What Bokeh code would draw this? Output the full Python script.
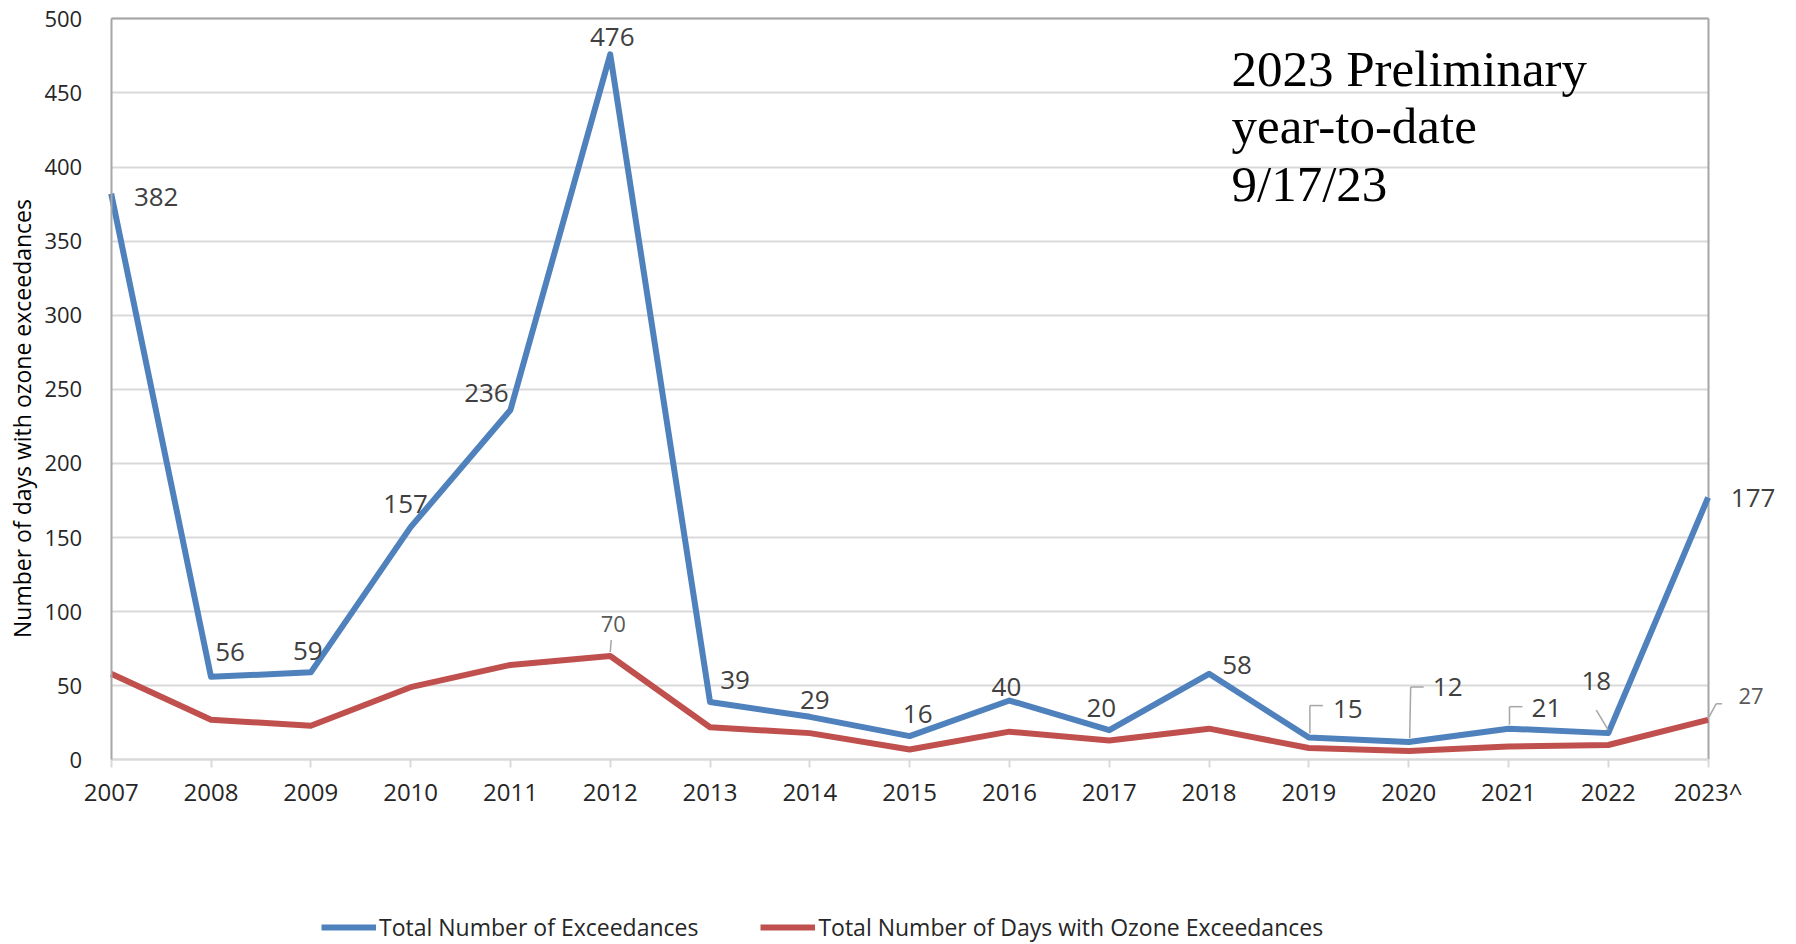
import math
from bokeh.plotting import figure
from bokeh.models import (Range1d, FixedTicker, Legend, LegendItem, Label, LabelSet,
                          ColumnDataSource, Arrow, Grid)
from bokeh.core.properties import value
from bokeh.embed import file_html
from bokeh.resources import INLINE

# ---------------- data ----------------
years = ["2007", "2008", "2009", "2010", "2011", "2012", "2013", "2014", "2015",
         "2016", "2017", "2018", "2019", "2020", "2021", "2022", "2023^"]
exceedances = [382, 56, 59, 157, 236, 476, 39, 29, 16, 40, 20, 58, 15, 12, 21, 18, 177]
ozone_days = [58, 27, 23, 49, 64, 70, 22, 18, 7, 19, 13, 21, 8, 6, 9, 10, 27]
labelled_day_years = ["2012", "2023^"]
y_ticks = [0, 50, 100, 150, 200, 250, 300, 350, 400, 450, 500]
series_names = ["Total Number of Exceedances", "Total Number of Days with Ozone Exceedances"]
note_lines = ["2023 Preliminary", "year-to-date", "9/17/23"]
y_title = "Number of  days with ozone exceedances"

# ---------------- layout / style (pixels) ----------------
W, H = 1796, 944
PLOT_L, PLOT_R = 110.7, 1707.6    # x pixels of first / last category
PLOT_T, PLOT_B = 18.3, 759.3      # y pixels of 500 / 0
N = len(years)
Y_MAX = y_ticks[-1]
PX_X = (PLOT_R - PLOT_L) / (N - 1)
PX_Y = (PLOT_B - PLOT_T) / Y_MAX

def dx_(px):  # pixel x -> data x
    return (px - PLOT_L) / PX_X

def dy_(py):  # pixel y -> data y
    return (PLOT_B - py) / PX_Y

BLUE = "#4f81bd"
RED = "#c0504d"
FONT = "Open Sans"

# label offsets in screen px (right, down)
exc_dx = [45, 19, -3, -5, -24, 2, 25, 5, 8, -3, -8, 28, 39, 39, 38, -12, 45]
exc_dy = [3, -25, -21, -23, -17, -17, -22, -17, -22, -14, -22, -9, -29, -55, -21, -52, 1]
day_dx = [3, 43]
day_dy = [-32, -24]

# leader polylines in screen px relative to the point
exc_leaders = {12: [(1, -4), (1, -32), (14, -32)],
               13: [(1, -4), (2, -55), (15, -55)],
               14: [(1, -4), (1, -22), (14, -22)],
               15: [(0, -3), (-12, -23)]}
day_leaders = {5: [(0, -4), (1, -16)],
               16: [(1, -3), (8, -16), (14, -16)]}

xs = list(range(N))

p = figure(width=W, height=H, output_backend="svg", toolbar_location=None,
           x_range=Range1d(dx_(0), dx_(W)), y_range=Range1d(dy_(H), dy_(0)),
           min_border_left=0, min_border_right=0, min_border_top=0,
           min_border_bottom=0, background_fill_color="white",
           border_fill_color="white")
p.outline_line_color = None

# axes (fixed at the data origin)
xa = p.xaxis[0]
xa.fixed_location = 0
xa.ticker = FixedTicker(ticks=xs)
xa.bounds = (0, N - 1)
xa.major_label_overrides = {i: y for i, y in enumerate(years)}
xa.axis_line_color = "#d9d9d9"
xa.axis_line_width = 2
xa.major_tick_line_color = "#d9d9d9"
xa.major_tick_line_width = 2
xa.major_tick_in = 0
xa.major_tick_out = 8
xa.minor_tick_line_color = None
xa.major_label_text_font = FONT
xa.major_label_text_font_size = "24px"
xa.major_label_text_color = "#262626"
xa.major_label_standoff = 7

ya = p.yaxis[0]
ya.fixed_location = 0
ya.ticker = FixedTicker(ticks=y_ticks)
ya.bounds = (0, Y_MAX)
ya.axis_line_color = "#a6a6a6"
ya.axis_line_width = 2
ya.major_tick_line_color = None
ya.minor_tick_line_color = None
ya.major_label_text_font = FONT
ya.major_label_text_font_size = "22px"
ya.major_label_text_color = "#262626"
ya.major_label_standoff = 23

p.xgrid.visible = False
p.ygrid.ticker = FixedTicker(ticks=y_ticks)
p.ygrid.cross_bounds = (0, N - 1)
p.ygrid.grid_line_color = "#d9d9d9"
p.ygrid.grid_line_width = 2

# plot-area border (top and right)
p.add_layout(Grid(dimension=1, ticker=FixedTicker(ticks=[Y_MAX]), cross_bounds=(0, N - 1),
                  grid_line_color="#a6a6a6", grid_line_width=2))
p.add_layout(Grid(dimension=0, ticker=FixedTicker(ticks=[N - 1]), cross_bounds=(0, Y_MAX),
                  grid_line_color="#a6a6a6", grid_line_width=2))

# lines
src = ColumnDataSource(dict(x=xs, exc=exceedances, days=ozone_days, years=years,
                            exc_lab=[str(v) for v in exceedances],
                            dx=exc_dx, dy=[-d for d in exc_dy]))
r_exc = p.line("x", "exc", source=src, line_color=BLUE, line_width=6, line_join="round")
r_days = p.line("x", "days", source=src, line_color=RED, line_width=6, line_join="round")

# data labels
p.add_layout(LabelSet(x="x", y="exc", text="exc_lab", source=src,
                      x_offset="dx", y_offset="dy",
                      text_align="center", text_baseline="middle",
                      text_font=value(FONT), text_font_size=value("26px"),
                      text_color="#404040"))

idx = [years.index(y) for y in labelled_day_years]
dsrc = ColumnDataSource(dict(x=[xs[i] for i in idx], y=[ozone_days[i] for i in idx],
                             t=[str(ozone_days[i]) for i in idx],
                             dx=day_dx, dy=[-d for d in day_dy]))
p.add_layout(LabelSet(x="x", y="y", text="t", source=dsrc,
                      x_offset="dx", y_offset="dy",
                      text_align="center", text_baseline="middle",
                      text_font=value(FONT), text_font_size=value("22px"),
                      text_color="#595959"))

# leader lines
seg = dict(x0=[], y0=[], x1=[], y1=[])
def add_leaders(leaders, vals):
    for i, pts in leaders.items():
        pts_d = [(xs[i] + dx / PX_X, vals[i] - dy / PX_Y) for dx, dy in pts]
        for a, b in zip(pts_d[:-1], pts_d[1:]):
            seg["x0"].append(a[0]); seg["y0"].append(a[1])
            seg["x1"].append(b[0]); seg["y1"].append(b[1])
add_leaders(exc_leaders, exceedances)
add_leaders(day_leaders, ozone_days)
p.add_layout(Arrow(end=None, source=ColumnDataSource(seg),
                   x_start="x0", y_start="y0", x_end="x1", y_end="y1",
                   line_color="#a6a6a6", line_width=1.5))

# note text
for line, base in zip(note_lines, [68, 125, 183]):
    p.add_layout(Label(x=dx_(1231), y=dy_(base), text=line,
                       text_font="Liberation Serif", text_font_size="51px",
                       text_color="black", text_baseline="alphabetic",
                       text_align="left"))

# y axis title
p.add_layout(Label(x=dx_(21), y=dy_(415), text=y_title, angle=math.pi / 2,
                   text_align="center", text_baseline="middle",
                   text_font=FONT, text_font_size="23px", text_color="black"))

# legend
legend = Legend(items=[LegendItem(label=series_names[0], renderers=[r_exc]),
                       LegendItem(label=series_names[1], renderers=[r_days])],
                location=(321, 1), orientation="horizontal",
                glyph_width=55, glyph_height=20, label_height=20,
                label_standoff=3, spacing=62, padding=0, margin=0,
                border_line_color=None, background_fill_alpha=0,
                label_text_font=FONT, label_text_font_size="23px",
                label_text_color="#262626")
p.add_layout(legend)

open("out.html", "w").write(file_html(p, INLINE))
